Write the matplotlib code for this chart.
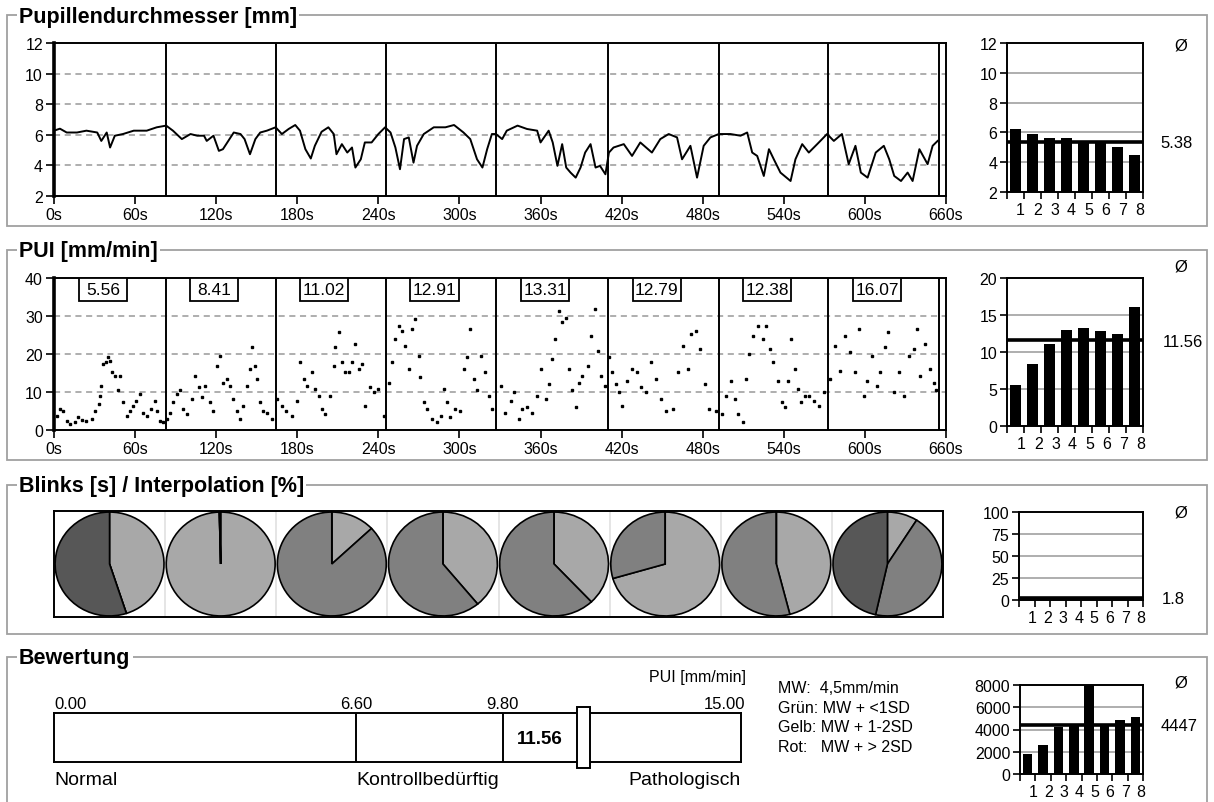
import numpy as np
import matplotlib
matplotlib.use('Agg')
import matplotlib.pyplot as plt
from matplotlib.patches import Rectangle

plt.rcParams['font.family'] = ['Liberation Sans', 'DejaVu Sans']

W, H = 1214, 803

# --- data ---
segment_edges = [0, 83, 164, 246, 327, 410, 492, 573, 655]

pupil_t = [0, 4.4, 9.4, 17, 24, 32, 35, 39, 41.5, 45, 51, 59, 68.6, 76, 83, 88, 94.6, 101, 106, 111,
           113, 118, 122, 125, 129, 133, 138, 141, 145, 149, 152.6, 157.5, 164, 168.6, 173.6, 178.5,
           182, 186, 190, 193, 198, 203, 207, 209, 213, 217, 220.5, 223, 227, 230, 235, 240, 245, 249,
           252.6, 256, 259, 262.5, 266, 268.6, 273.6, 281, 289.6, 296, 303, 308, 313, 317, 320.5, 324,
           327, 331.6, 335, 343, 350, 357.5, 360, 366, 369, 372.5, 376, 379, 382.2, 386, 389.6, 393,
           397, 400.7, 404, 408, 410.6, 414, 421.6, 427.7, 433.8, 442.4, 448.6, 454.8, 461, 464.7,
           470.9, 475.8, 480.7, 485.7, 491.9, 500.5, 508, 512.9, 516.6, 520.3, 525.2, 529, 532.6,
           537.5, 545, 548.6, 553.6, 558.5, 564.7, 572, 577, 583, 588, 593, 597, 602, 608, 614, 618,
           621.7, 626.7, 631.6, 635.3, 640.3, 646.4, 650.1, 653.8]
pupil_mm = [6.27, 6.4, 6.15, 6.15, 6.27, 6.15, 5.6, 6.15, 5.17, 5.94, 6.05, 6.27, 6.27, 6.49, 6.6, 6.27,
            5.72, 6.05, 5.94, 5.94, 5.6, 5.94, 4.95, 5.06, 5.6, 6.15, 6.05, 5.72, 4.73, 5.72, 6.15, 6.27,
            6.49, 6.05, 6.38, 6.64, 6.27, 5.06, 4.45, 5.28, 6.2, 6.49, 6.05, 4.73, 5.39, 4.84, 5.17, 3.86,
            4.4, 5.5, 5.5, 6.05, 6.49, 6.15, 5.17, 3.75, 5.72, 5.83, 4.18, 5.28, 6.05, 6.49, 6.49, 6.64,
            6.15, 5.72, 4.4, 3.86, 5.06, 6.05, 6.05, 5.72, 6.27, 6.6, 6.38, 6.27, 5.5, 6.27, 5.5, 3.97,
            5.39, 3.86, 3.53, 3.2, 3.86, 4.84, 5.39, 3.86, 3.97, 3.42, 4.84, 5.17, 5.39, 4.62, 5.5, 4.84,
            5.72, 6.05, 5.83, 4.4, 5.28, 3.2, 5.28, 5.83, 6.05, 6.05, 5.94, 6.15, 4.84, 4.62, 3.31, 5.06,
            4.4, 3.53, 2.98, 4.4, 5.39, 4.84, 5.39, 6.05, 5.6, 6.05, 4.08, 5.28, 3.53, 3.2, 4.84, 5.28,
            4.4, 3.31, 2.98, 3.53, 2.98, 5.06, 4.08, 5.28, 5.6]

pui_t = [2, 4.4, 7, 9.4, 11.9, 15.6, 18, 20.5, 24, 28, 30, 33, 34, 35, 36.5, 38.5, 40, 41.5, 42.7, 45,
         47.6, 48.9, 51, 54, 56, 58.8, 61, 63.7, 66, 68.6, 72, 74.8, 76, 78.5, 81,
         83.5, 86, 88.4, 90.9, 93.3, 95.8, 98.3, 102, 104.4, 107, 109.4, 111.9, 115.6, 118, 120.5, 123,
         125.4, 127.9, 130.4, 132.8, 135.3, 137.8, 140.2, 142.7, 145, 146.4, 149, 150, 152.6, 155,
         157.5, 161,
         165, 168.6, 172, 176, 179.8, 182, 184.7, 187, 191, 193.3, 195.8, 198, 200.7, 204, 207, 208,
         210.6, 213, 215.6, 218, 220.5, 223, 225.4, 228, 230, 234, 236.5, 240, 244,
         247.6, 250, 252.6, 255, 257.5, 260, 262.5, 265, 267.4, 270, 271, 273.6, 276, 279.8, 283.5,
         286, 288.4, 291, 293.3, 297, 300.7, 303, 305.7, 308, 310.6, 313, 315.6, 319, 321.5, 324,
         330.4, 334, 337.8, 340, 344, 346.4, 350, 354, 357.5, 360, 364, 366.2, 368.6, 371, 373.6, 376,
         378.6, 381, 383.6, 386, 388.6, 391, 395, 397.5, 400, 402.6, 405, 408,
         410.6, 413, 415.6, 418, 420.6, 424, 428, 431.6, 434, 438, 441.8, 445.5, 449, 453, 458, 461.5,
         465.4, 469, 471.6, 475.3, 477.8, 481.5, 485, 490,
         494, 497.5, 501.2, 503.7, 506, 509.6, 512, 514.6, 517, 521, 524.7, 527, 529.6, 532, 535.8,
         538.3, 540.7, 543, 545.6, 548, 550.5, 553, 555.4, 559, 562.7, 566.4, 570,
         574.3, 578, 581.7, 585.4, 589, 592.8, 595.3, 599, 601.5, 605, 608.8, 611.3, 615, 617.3, 621.2,
         624.9, 628.6, 632.3, 636, 638.5, 641, 644.7, 648.4, 650.9, 652.8]
pui_v = [3.8, 5.5, 5.1, 2.5, 1.6, 2.0, 3.3, 2.7, 2.5, 2.9, 5.1, 6.8, 9, 11.7, 17.4, 17.8, 19.1, 18.2, 15.2,
         14.3, 10.4, 14.3, 7.3, 3.8, 5.1, 6.4, 7.7, 9.5, 4.6, 3.8, 5.5, 7.7, 5.1, 2.5, 2.0,
         2.9, 4.6, 7.3, 9.5, 10.4, 5.5, 4.2, 8.2, 14.3, 11.2, 8.6, 11.7, 7.3, 5.1, 16.9, 19.6, 12.5, 13.4,
         11.7, 8.2, 5.1, 2.9, 6.4, 11.7, 16, 21.8, 16.9, 13.4, 7.3, 5.1, 4.6, 2.9,
         8.2, 6.4, 5.1, 3.8, 7.7, 17.8, 13.4, 11.7, 15.2, 10.8, 9, 5.5, 4.2, 9, 16.9, 21.8, 25.7, 17.8,
         15.2, 15.2, 17.8, 22.6, 16, 17.4, 6.4, 11.2, 9.9, 10.8, 3.8,
         12.5, 17.8, 23.9, 27.5, 26.1, 22.2, 16, 26.6, 29.2, 19.6, 13.9, 7.3, 5.5, 2.9, 2.0, 3.8, 10.8,
         7.3, 3.3, 5.5, 5.1, 16, 19.1, 26.6, 13.4, 10.4, 19.6, 15.2, 9, 5.5,
         11.7, 4.6, 7.7, 9.9, 2.9, 5.5, 6, 4.6, 9, 16, 8.2, 12.1, 18.7, 23.9, 31.4, 28.3, 29.6, 16, 10.4,
         6, 12.5, 14.3, 16.9, 24.8, 31.8, 20.9, 14.3, 11.7,
         19.1, 15.2, 12.1, 9.9, 6.4, 13, 16, 15.2, 11.2, 9.9, 17.8, 13.4, 8.2, 5.1, 5.5, 15.2, 22.2, 16,
         25.3, 26.1, 21.3, 12.1, 5.5, 5.1,
         4.2, 9, 13, 8.2, 4.2, 2.2, 13.4, 20, 24.8, 27.5, 23.9, 27.5, 21.3, 17.8, 13, 7.3, 6, 13, 23.9,
         16, 10.8, 7.3, 9, 9, 7.7, 6.4, 9.9,
         13.4, 22.2, 15.6, 24.8, 20.4, 15.2, 26.6, 9, 13, 19.6, 11.7, 15.2, 21.8, 25.7, 9.9, 15.2, 9,
         19.6, 21.3, 26.6, 14.3, 22.6, 16, 12.5, 10.4]

pui_segment = [5.56, 8.41, 11.02, 12.91, 13.31, 12.79, 12.38, 16.07]
pupil_segment = [6.2, 5.9, 5.6, 5.6, 5.35, 5.35, 5.0, 4.5]
pupil_mean = 5.38
blink_segment = [1.6, 1.7, 1.7, 1.6, 3.0, 1.5, 1.6, 1.7]
blink_mean = 1.8
score_segment = [1800, 2600, 4200, 4500, 7976, 4500, 4850, 5150]
score_mean = 4447

# pie shares, clockwise from 12 o'clock: light, medium, dark
pie_light = [45, 99.6, 13, 39, 38, 70.5, 46, 9]
pie_mid = [0, 0, 87, 61, 62, 29.5, 54, 44.5]
pie_dark = [55, 0.4, 0, 0, 0, 0, 0, 46.5]

gauge_limits = [0.0, 6.6, 9.8, 15.0]
gauge_names = ['Normal', 'Kontrollbedürftig', 'Pathologisch']
gauge_value = np.mean(pui_segment)
legend_lines = ['MW:  4,5mm/min', 'Grün: MW + <1SD', 'Gelb: MW + 1-2SD', 'Rot:   MW + > 2SD']


def rect(x0, y0, x1, y1):
    # pixel box (top-left origin) -> figure fraction [left, bottom, width, height]
    return [x0 / W, 1 - y1 / H, (x1 - x0) / W, (y1 - y0) / H]


fig = plt.figure(figsize=(W / 100, H / 100), dpi=100)


def group_box(y0, y1, title):
    fig.add_artist(Rectangle((7 / W, 1 - y1 / H), 1200 / W, (y1 - y0) / H, transform=fig.transFigure,
                             fill=False, edgecolor='#a0a0a0', lw=1.3))
    fig.text(19 / W, 1 - (y0 + 1) / H, title, fontsize=15.5, fontweight='bold', ha='left', va='center',
             bbox=dict(fc='white', ec='none', pad=1.5))


def fig_text(x, y, s, **kw):
    fig.text(x / W, 1 - y / H, s, ha='center', va='center', **kw)


def style_time_axis(ax, ymin, ymax, step):
    ax.set_xlim(0, 660)
    ax.set_ylim(ymin, ymax)
    ax.set_xticks(range(0, 661, 60))
    ax.set_xticklabels([f'{t}s' for t in range(0, 661, 60)])
    ticks = np.arange(ymin, ymax + step / 2, step)
    ax.set_yticks(ticks)
    for y in ticks[1:-1]:
        ax.axhline(y, color='#999999', lw=1.1, ls=(0, (4, 3)), zorder=0)
    for x in segment_edges[1:]:
        ax.axvline(x, color='black', lw=1.4, zorder=1)
    for s in ax.spines.values():
        s.set_linewidth(1.4)
    ax.spines['left'].set_linewidth(2.6)
    ax.tick_params(direction='out', length=6, width=1.2, labelsize=11.5, pad=2)


def bar_panel(ax, values, mean, ymin, ymax, step, label_x_shift=0.15):
    x = np.arange(8) + 0.5
    ax.bar(x, np.array(values) - ymin, bottom=ymin, width=0.62, color='black', zorder=2)
    ax.axhline(mean, color='black', lw=2.6, zorder=3)
    ax.set_xlim(0, 8)
    ax.set_ylim(ymin, ymax)
    ticks = np.arange(ymin, ymax + step / 2, step)
    ax.set_yticks(ticks)
    for y in ticks[1:-1]:
        ax.axhline(y, color='#999999', lw=1.1, zorder=0)
    ax.set_xticks(range(9))
    ax.set_xticklabels([])
    ax.set_xticks(np.arange(1, 9) - label_x_shift, minor=True)
    ax.set_xticklabels([str(i) for i in range(1, 9)], minor=True)
    for s in ax.spines.values():
        s.set_linewidth(1.4)
    ax.tick_params(which='major', direction='out', length=5, width=1.2, labelsize=11.5, pad=2)
    ax.tick_params(which='minor', length=0, labelsize=11.5, pad=7)


# group boxes
group_box(16, 227, 'Pupillendurchmesser [mm]')
group_box(251, 461, 'PUI [mm/min]')
group_box(486, 635, 'Blinks [s] / Interpolation [%]')
group_box(658, 820, 'Bewertung')

# panel 1: pupil diameter
ax1 = fig.add_axes(rect(54, 44, 946, 197))
ax1.plot(pupil_t, pupil_mm, color='black', lw=1.4, zorder=2)
style_time_axis(ax1, 2, 12, 2)

b1 = fig.add_axes(rect(1007, 44, 1143, 193))
bar_panel(b1, pupil_segment, pupil_mean, 2, 12, 2, 0.2)
fig_text(1181, 46, 'Ø', fontsize=12)
fig_text(1177, 144, f'{pupil_mean:.2f}', fontsize=12)

# panel 2: PUI
ax2 = fig.add_axes(rect(54, 279, 946, 431))
ax2.plot(pui_t, pui_v, ls='none', marker='s', ms=1.7, color='black', zorder=2)
style_time_axis(ax2, 0, 40, 10)
for i, val in enumerate(pui_segment):
    cx = (segment_edges[i] + segment_edges[i + 1]) / 2 - 5
    ax2.add_patch(Rectangle((cx - 17.8, 34), 35.6, 6, fc='white', ec='black', lw=1.3, zorder=4))
    ax2.text(cx, 37, f'{val:.2f}', ha='center', va='center', fontsize=12.5, zorder=5)

b2 = fig.add_axes(rect(1007, 279, 1143, 427))
bar_panel(b2, pui_segment, np.mean(pui_segment), 0, 20, 5)
fig_text(1181, 267, 'Ø', fontsize=12)
fig_text(1183, 343, f'{np.mean(pui_segment):.2f}', fontsize=12)

# panel 3: blinks / interpolation pies
ax3 = fig.add_axes(rect(54, 512, 943, 618))
for i in range(8):
    ax3.pie([pie_light[i], pie_mid[i], pie_dark[i]], colors=['#a8a8a8', '#808080', '#575757'],
            center=(i + 0.5, 0.5), radius=0.49, startangle=90, counterclock=False,
            wedgeprops=dict(edgecolor='black', linewidth=1.2), frame=True)
ax3.set_aspect('auto')
ax3.set_xlim(0, 8)
ax3.set_ylim(0, 1)
for x in range(1, 8):
    ax3.axvline(x, color='#e0e0e0', lw=1.2, zorder=0)
ax3.set_xticks([])
ax3.set_yticks([])
for s in ax3.spines.values():
    s.set_linewidth(1.4)

b3 = fig.add_axes(rect(1019, 513, 1143, 601))
bar_panel(b3, blink_segment, blink_mean, 0, 100, 25)
fig_text(1181, 513, 'Ø', fontsize=12)
fig_text(1173, 600, f'{blink_mean:.1f}', fontsize=12)

# panel 4: rating gauge
ax4 = fig.add_axes(rect(54, 714, 741, 763))
ax4.set_xlim(gauge_limits[0], gauge_limits[-1])
ax4.set_ylim(0, 1)
ax4.set_xticks([])
ax4.set_yticks([])
for s in ax4.spines.values():
    s.set_linewidth(1.4)
for v in gauge_limits[1:-1]:
    ax4.axvline(v, color='black', lw=1.4)
ax4.add_patch(Rectangle((gauge_value - 0.14, -0.12), 0.28, 1.24, fc='white', ec='black', lw=1.4,
                        clip_on=False, zorder=5))
ax4.text((gauge_limits[2] + gauge_value - 0.14) / 2, 0.48, f'{gauge_value:.2f}', ha='center',
         va='center', fontsize=13.5, fontweight='bold')
for v, ha in zip(gauge_limits, ['left', 'center', 'center', 'right']):
    ax4.text(v + (0.1 if ha == 'right' else 0), 1.2, f'{v:.2f}', ha=ha, va='center', fontsize=12)
ax4.text(gauge_limits[-1] + 0.1, 1.75, 'PUI [mm/min]', ha='right', va='center', fontsize=11.5)
for v, name, ha in zip([0, gauge_limits[1], gauge_limits[-1]], gauge_names, ['left', 'left', 'right']):
    ax4.text(v, -0.36, name, ha=ha, va='center', fontsize=14)

for k, line in enumerate(legend_lines):
    fig.text(778 / W, 1 - (689 + 19.5 * k) / H, line, ha='left', va='center', fontsize=11.5)

b4 = fig.add_axes(rect(1020, 686, 1143, 775))
bar_panel(b4, score_segment, score_mean, 0, 8000, 2000)
fig_text(1181, 683, 'Ø', fontsize=12)
fig_text(1179, 727, f'{score_mean}', fontsize=12)

fig.savefig('out.png', dpi=100)
